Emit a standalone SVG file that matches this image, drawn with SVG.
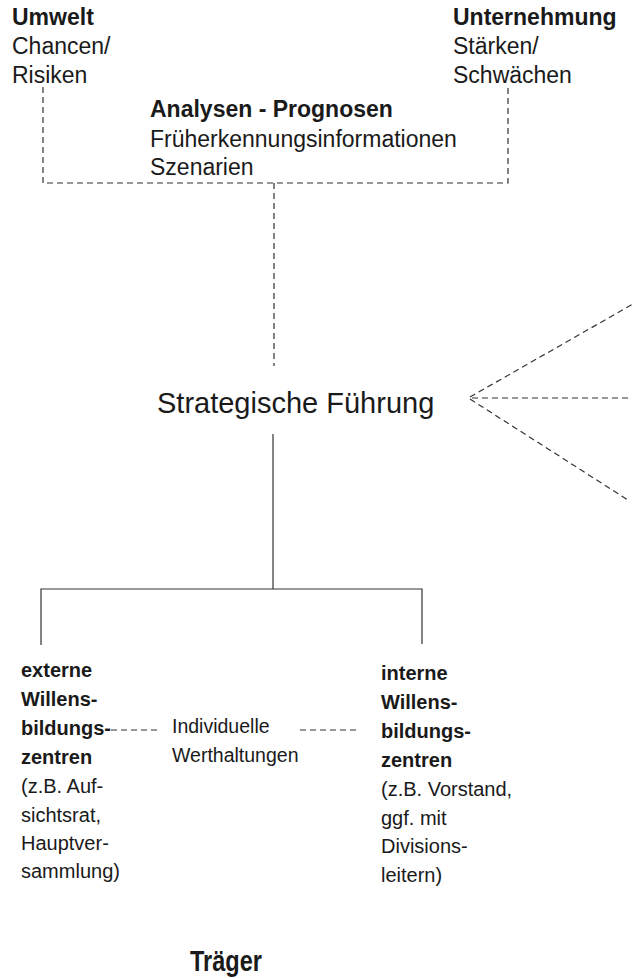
<svg xmlns="http://www.w3.org/2000/svg" width="632" height="978" viewBox="0 0 632 978">
<style>
.t{font-family:"Liberation Sans",Arial,sans-serif;fill:#1a1a1a}
.b{font-weight:bold}
.s22{font-size:23px}
.s20{font-size:20px}
.d{fill:none;stroke:#333;stroke-width:1.2;stroke-dasharray:6,4}
.l{fill:none;stroke:#333;stroke-width:1.2}
</style>
<rect width="632" height="978" fill="#fff"/>
<g id="connectors">
<path class="d" d="M43,87 V183 H508 V86"/>
<path class="d" d="M274,183 V366"/>
<path class="l" d="M273,434 V589"/>
<path class="l" d="M41,645 V589 H422 V644"/>
<path class="d" d="M470,397 L640,300"/>
<path class="d" d="M472,398 H632" style="stroke:#777;stroke-width:1.6"/>
<path class="d" d="M470,399 L628,500"/>
<path class="d" d="M111,730 H158"/>
<path class="d" d="M300,730 H360"/>
</g>
<g id="umwelt" class="t s22">
<text x="12" y="25" class="b">Umwelt</text>
<text x="12" y="54">Chancen/</text>
<text x="12" y="83">Risiken</text>
</g>
<g id="unternehmung" class="t s22">
<text x="453" y="25" class="b">Unternehmung</text>
<text x="453" y="54">Stärken/</text>
<text x="453" y="83">Schwächen</text>
</g>
<g id="analysen" class="t s22">
<text x="150" y="117" class="b">Analysen - Prognosen</text>
<text x="150" y="147">Früherkennungsinformationen</text>
<text x="150" y="175">Szenarien</text>
</g>
<g id="fuehrung" class="t">
<text x="157" y="413" style="font-size:29px">Strategische Führung</text>
</g>
<g id="extern" class="t s20">
<text x="21" y="677" class="b">externe</text>
<text x="21" y="706" class="b">Willens-</text>
<text x="21" y="735" class="b">bildungs-</text>
<text x="21" y="764" class="b">zentren</text>
<text x="21" y="793">(z.B. Auf-</text>
<text x="21" y="822">sichtsrat,</text>
<text x="21" y="850">Hauptver-</text>
<text x="21" y="878">sammlung)</text>
</g>
<g id="werthaltungen" class="t" style="font-size:19.5px">
<text x="172" y="733">Individuelle</text>
<text x="172" y="762">Werthaltungen</text>
</g>
<g id="intern" class="t s20">
<text x="381" y="680" class="b">interne</text>
<text x="381" y="709" class="b">Willens-</text>
<text x="381" y="738" class="b">bildungs-</text>
<text x="381" y="767" class="b">zentren</text>
<text x="381" y="796">(z.B. Vorstand,</text>
<text x="381" y="825">ggf. mit</text>
<text x="381" y="853">Divisions-</text>
<text x="381" y="882">leitern)</text>
</g>
<g id="traeger" class="t b">
<text x="190" y="971" style="font-size:30px" textLength="72" lengthAdjust="spacingAndGlyphs">Träger</text>
</g>
</svg>
